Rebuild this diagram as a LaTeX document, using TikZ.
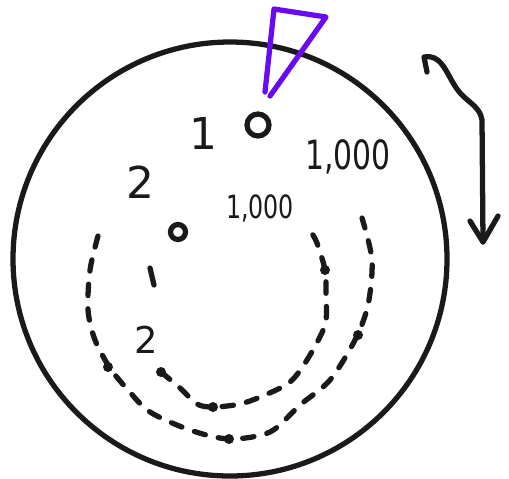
\documentclass[tikz,border=0pt]{standalone}
\usepackage{fontspec}
\setmainfont{DejaVu Sans}
\usetikzlibrary{arrows.meta}
\definecolor{penviolet}{HTML}{6A0AF0}
\definecolor{ink}{HTML}{1A1A1A}
\tikzset{
  pen/.style={line width=3pt, line cap=round, line join=round, draw=ink},
  dashpen/.style={pen, dash pattern=on 6.5pt off 7.5pt},
  scrawl/.style={text=ink, inner sep=0pt, font=\fontsize{25}{25}\selectfont},
  midscrawl/.style={scrawl, font=\fontsize{17}{17}\selectfont},
  smallscrawl/.style={scrawl, font=\fontsize{13.5}{13.5}\selectfont}
}
\newcommand{\tallnum}[1]{\scalebox{1}[1.35]{#1}}
\begin{document}
\begin{tikzpicture}[x=0.02cm, y=-0.02cm]
  \useasboundingbox (0,0) rectangle (509,478);
  % the disc
  \draw[pen] (230,259) circle (217);
  % pointer on top
  \coordinate (T1) at (265,92);
  \coordinate (T2) at (274,9);
  \coordinate (T3) at (326,17);
  \coordinate (T4) at (270,96);
  \draw[pen, draw=penviolet] (T1) -- (T2) -- (T3) -- (T4);
  % holes
  \draw[pen] (258,125) circle (11);
  \draw[pen] (178,232) circle (7.5);
  % labels
  \node[scrawl] (one) at (203,133) {1};
  \node[scrawl] (twoa) at (140,182) {2};
  \node[midscrawl] (thouA) at (348,157) {\tallnum{1,000}};
  \node[smallscrawl] (thouB) at (260,208) {\tallnum{1,000}};
  \node[scrawl, font=\fontsize{21}{21}\selectfont] (twob) at (146,340) {2};
  % outer track
  \draw[dashpen] plot[smooth] coordinates {(98,236) (90,270) (88,310) (95,340)
    (110,368) (128,390) (150,412) (190,430) (229,439) (270,432) (300,405)
    (330,380) (355,340) (368,305) (372,260) (362,218)};
  % inner track
  \draw[pen] (150,268) -- (154,285);
  \draw[dashpen] plot[smooth] coordinates {(161,372) (180,388) (197,404)
    (213,407) (240,404) (265,395) (290,382) (307,360) (325,325) (326,295)
    (325,270) (317,243) (311,232)};
  \foreach \p in {(108,367),(229,439),(358,335),(161,372),(213,407),(325,270)}
    \fill[ink] \p circle (5);
  % rotation arrow
  \coordinate (R0) at (427,72);
  \coordinate (R1) at (424,57);
  \coordinate (R2) at (462,95);
  \coordinate (R3) at (482,120);
  \coordinate (R4) at (483,242);
  \draw[pen] (R0) -- (R1) to[out=10,in=135] (R2) to[out=-45,in=100] (R3) -- (R4);
  \draw[pen] (470,221) -- (R4) -- (498,216);
\end{tikzpicture}
\end{document}
